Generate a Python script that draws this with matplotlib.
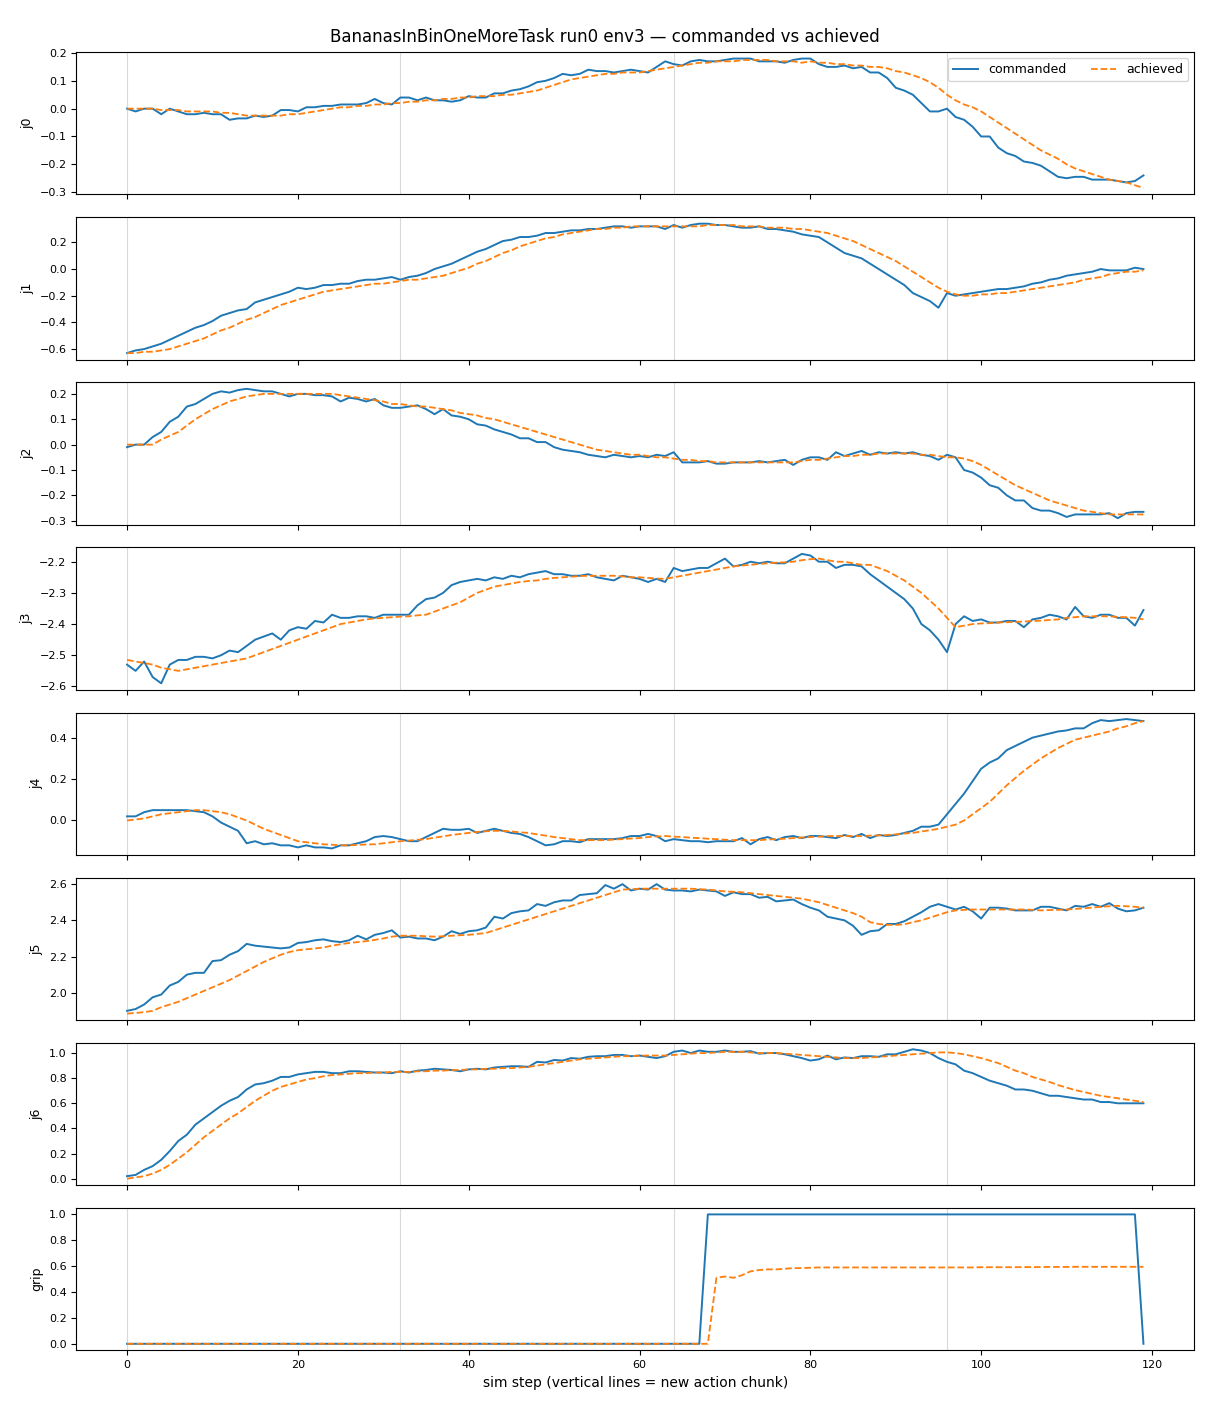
import matplotlib
matplotlib.use("Agg")
import matplotlib.pyplot as plt

joint_names = ["j0", "j1", "j2", "j3", "j4", "j5", "j6", "grip"]
chunk_starts = [0, 32, 64, 96]

j0_cmd = [0.00, -0.01, 0.00, 0.00, -0.02, 0.00, -0.01, -0.02, -0.02, -0.015,
          -0.02, -0.02, -0.04, -0.035, -0.035, -0.025, -0.03, -0.025, -0.005, -0.005,
          -0.01, 0.005, 0.005, 0.01, 0.01, 0.015, 0.015, 0.015, 0.02, 0.035,
          0.02, 0.015, 0.04, 0.04, 0.03, 0.04, 0.03, 0.03, 0.025, 0.03,
          0.045, 0.04, 0.04, 0.055, 0.055, 0.065, 0.07, 0.08, 0.095, 0.1,
          0.11, 0.125, 0.12, 0.125, 0.14, 0.135, 0.135, 0.13, 0.135, 0.14,
          0.135, 0.13, 0.15, 0.17, 0.16, 0.155, 0.17, 0.175, 0.17, 0.17,
          0.175, 0.18, 0.18, 0.18, 0.17, 0.17, 0.17, 0.165, 0.175, 0.18,
          0.18, 0.16, 0.15, 0.15, 0.155, 0.145, 0.15, 0.13, 0.13, 0.11,
          0.075, 0.065, 0.05, 0.02, -0.01, -0.01, 0.0, -0.03, -0.04, -0.065,
          -0.1, -0.1, -0.14, -0.16, -0.17, -0.19, -0.195, -0.205, -0.225, -0.245,
          -0.25, -0.245, -0.245, -0.255, -0.255, -0.255, -0.26, -0.265, -0.26, -0.24]
j0_ach = [0, 0, 0, 0, -0.005, -0.005, -0.005, -0.01, -0.01, -0.01,
          -0.01, -0.015, -0.015, -0.02, -0.025, -0.025, -0.025, -0.025, -0.025, -0.02,
          -0.02, -0.015, -0.01, -0.005, 0, 0.005, 0.005, 0.01, 0.01, 0.015,
          0.015, 0.02, 0.02, 0.025, 0.025, 0.03, 0.03, 0.035, 0.035, 0.04,
          0.04, 0.045, 0.045, 0.045, 0.05, 0.05, 0.055, 0.06, 0.065, 0.075,
          0.085, 0.095, 0.105, 0.11, 0.115, 0.12, 0.125, 0.125, 0.13, 0.13,
          0.13, 0.135, 0.14, 0.145, 0.15, 0.155, 0.16, 0.165, 0.165, 0.17,
          0.17, 0.17, 0.175, 0.175, 0.175, 0.175, 0.17, 0.17, 0.17, 0.165,
          0.17, 0.165, 0.165, 0.16, 0.16, 0.155, 0.155, 0.15, 0.15, 0.145,
          0.135, 0.13, 0.12, 0.11, 0.095, 0.075, 0.05, 0.03, 0.015, 0.005,
          -0.01, -0.03, -0.05, -0.07, -0.09, -0.11, -0.13, -0.15, -0.165, -0.18,
          -0.2, -0.215, -0.225, -0.235, -0.245, -0.255, -0.26, -0.265, -0.275, -0.285]

j1_cmd = [-0.63, -0.61, -0.6, -0.58, -0.56, -0.53, -0.5, -0.47, -0.44, -0.42,
          -0.39, -0.35, -0.33, -0.31, -0.3, -0.25, -0.23, -0.21, -0.19, -0.17,
          -0.14, -0.15, -0.14, -0.12, -0.12, -0.11, -0.11, -0.09, -0.08, -0.08,
          -0.07, -0.06, -0.08, -0.06, -0.05, -0.03, 0.0, 0.02, 0.04, 0.07,
          0.1, 0.13, 0.15, 0.18, 0.21, 0.22, 0.24, 0.24, 0.25, 0.27,
          0.27, 0.28, 0.29, 0.29, 0.3, 0.3, 0.31, 0.32, 0.32, 0.31,
          0.32, 0.32, 0.32, 0.3, 0.33, 0.31, 0.33, 0.34, 0.34, 0.33,
          0.33, 0.32, 0.31, 0.31, 0.32, 0.3, 0.3, 0.29, 0.28, 0.26,
          0.25, 0.24, 0.2, 0.16, 0.12, 0.1, 0.08, 0.04, 0.0, -0.04,
          -0.08, -0.12, -0.18, -0.21, -0.24, -0.29, -0.18, -0.2, -0.19, -0.18,
          -0.17, -0.16, -0.15, -0.15, -0.14, -0.13, -0.11, -0.1, -0.08, -0.07,
          -0.05, -0.04, -0.03, -0.02, 0.0, -0.01, -0.01, -0.01, 0.01, 0.0]
j1_ach = [-0.63, -0.63, -0.62, -0.62, -0.61, -0.6, -0.58, -0.56, -0.54, -0.52,
          -0.49, -0.46, -0.44, -0.41, -0.38, -0.36, -0.33, -0.3, -0.27, -0.25,
          -0.23, -0.21, -0.19, -0.17, -0.16, -0.15, -0.14, -0.13, -0.12, -0.11,
          -0.11, -0.1, -0.09, -0.08, -0.08, -0.07, -0.06, -0.05, -0.03, -0.01,
          0.01, 0.04, 0.06, 0.09, 0.12, 0.14, 0.17, 0.19, 0.21, 0.23,
          0.24, 0.26, 0.27, 0.28, 0.29, 0.3, 0.3, 0.31, 0.31, 0.32,
          0.32, 0.32, 0.32, 0.32, 0.32, 0.32, 0.32, 0.32, 0.33, 0.33,
          0.33, 0.33, 0.32, 0.32, 0.32, 0.31, 0.31, 0.31, 0.3, 0.3,
          0.29, 0.28, 0.27, 0.25, 0.23, 0.21, 0.18, 0.15, 0.12, 0.09,
          0.06, 0.02, -0.02, -0.06, -0.1, -0.14, -0.17, -0.19, -0.2, -0.2,
          -0.19, -0.19, -0.18, -0.18, -0.17, -0.16, -0.15, -0.14, -0.13, -0.12,
          -0.11, -0.1, -0.08, -0.07, -0.06, -0.04, -0.03, -0.02, -0.02, -0.01]

j2_cmd = [-0.01, 0.0, 0.0, 0.03, 0.05, 0.09, 0.11, 0.15, 0.16, 0.18,
          0.2, 0.21, 0.205, 0.215, 0.22, 0.215, 0.21, 0.21, 0.2, 0.19,
          0.2, 0.2, 0.195, 0.195, 0.19, 0.17, 0.185, 0.18, 0.17, 0.18,
          0.155, 0.145, 0.145, 0.15, 0.155, 0.14, 0.12, 0.14, 0.115, 0.11,
          0.1, 0.08, 0.075, 0.06, 0.05, 0.04, 0.025, 0.025, 0.01, 0.01,
          -0.01, -0.02, -0.025, -0.03, -0.04, -0.045, -0.05, -0.04, -0.045, -0.05,
          -0.045, -0.05, -0.04, -0.045, -0.03, -0.07, -0.07, -0.07, -0.065, -0.075,
          -0.075, -0.07, -0.07, -0.07, -0.065, -0.07, -0.065, -0.06, -0.08, -0.06,
          -0.05, -0.05, -0.06, -0.03, -0.045, -0.035, -0.025, -0.04, -0.03, -0.035,
          -0.03, -0.035, -0.03, -0.04, -0.045, -0.06, -0.04, -0.05, -0.1, -0.11,
          -0.13, -0.16, -0.17, -0.2, -0.22, -0.22, -0.25, -0.26, -0.26, -0.27,
          -0.285, -0.275, -0.275, -0.275, -0.275, -0.27, -0.29, -0.27, -0.265, -0.265]
j2_ach = [0.0, 0.0, 0.0, 0.0, 0.02, 0.035, 0.05, 0.075, 0.1, 0.12,
          0.14, 0.155, 0.17, 0.18, 0.19, 0.195, 0.2, 0.2, 0.2, 0.2,
          0.2, 0.2, 0.2, 0.2, 0.2, 0.195, 0.19, 0.185, 0.18, 0.175,
          0.17, 0.16, 0.16, 0.155, 0.15, 0.15, 0.145, 0.14, 0.135, 0.125,
          0.12, 0.115, 0.105, 0.1, 0.09, 0.08, 0.07, 0.06, 0.05, 0.04,
          0.03, 0.02, 0.01, 0.0, -0.01, -0.02, -0.025, -0.03, -0.035, -0.04,
          -0.04, -0.045, -0.05, -0.05, -0.055, -0.06, -0.06, -0.065, -0.065, -0.07,
          -0.07, -0.07, -0.07, -0.07, -0.07, -0.07, -0.07, -0.07, -0.07, -0.065,
          -0.06, -0.06, -0.055, -0.05, -0.045, -0.045, -0.04, -0.04, -0.035, -0.035,
          -0.035, -0.035, -0.035, -0.04, -0.04, -0.045, -0.05, -0.05, -0.055, -0.065,
          -0.08, -0.1, -0.12, -0.14, -0.16, -0.175, -0.19, -0.205, -0.22, -0.23,
          -0.24, -0.25, -0.26, -0.265, -0.27, -0.275, -0.275, -0.275, -0.275, -0.275]

j3_cmd = [-2.53, -2.55, -2.52, -2.57, -2.59, -2.53, -2.515, -2.515, -2.505, -2.505,
          -2.51, -2.5, -2.485, -2.49, -2.47, -2.45, -2.44, -2.43, -2.45, -2.42,
          -2.41, -2.415, -2.39, -2.395, -2.37, -2.38, -2.38, -2.375, -2.375, -2.38,
          -2.37, -2.37, -2.37, -2.37, -2.34, -2.32, -2.315, -2.3, -2.275, -2.265,
          -2.26, -2.255, -2.26, -2.25, -2.255, -2.245, -2.25, -2.24, -2.235, -2.23,
          -2.24, -2.24, -2.245, -2.245, -2.24, -2.25, -2.255, -2.26, -2.245, -2.25,
          -2.255, -2.265, -2.255, -2.265, -2.22, -2.23, -2.225, -2.22, -2.22, -2.205,
          -2.19, -2.215, -2.21, -2.2, -2.205, -2.2, -2.205, -2.205, -2.19, -2.175,
          -2.18, -2.2, -2.2, -2.22, -2.21, -2.21, -2.215, -2.24, -2.26, -2.28,
          -2.3, -2.32, -2.35, -2.4, -2.42, -2.45, -2.49, -2.4, -2.375, -2.39,
          -2.385, -2.395, -2.395, -2.39, -2.39, -2.41, -2.385, -2.38, -2.37, -2.375,
          -2.385, -2.345, -2.375, -2.38, -2.37, -2.37, -2.38, -2.38, -2.405, -2.355]
j3_ach = [-2.515, -2.52, -2.525, -2.53, -2.54, -2.545, -2.55, -2.545, -2.54, -2.535,
          -2.53, -2.525, -2.52, -2.515, -2.51, -2.5, -2.49, -2.48, -2.47, -2.46,
          -2.45, -2.44, -2.43, -2.42, -2.41, -2.4, -2.395, -2.39, -2.385, -2.382,
          -2.38, -2.378, -2.376, -2.375, -2.372, -2.37, -2.36, -2.35, -2.34, -2.33,
          -2.315, -2.3, -2.29, -2.28, -2.275, -2.27, -2.265, -2.262, -2.26, -2.255,
          -2.252, -2.25, -2.248, -2.246, -2.245, -2.245, -2.245, -2.245, -2.247, -2.25,
          -2.25, -2.252, -2.254, -2.255, -2.25, -2.245, -2.24, -2.235, -2.23, -2.225,
          -2.22, -2.215, -2.212, -2.21, -2.207, -2.205, -2.203, -2.202, -2.2, -2.195,
          -2.192, -2.19, -2.195, -2.2, -2.2, -2.205, -2.21, -2.21, -2.22, -2.23,
          -2.245, -2.26, -2.28, -2.3, -2.325, -2.35, -2.38, -2.41, -2.405, -2.4,
          -2.398, -2.397, -2.395, -2.394, -2.393, -2.392, -2.39, -2.389, -2.387, -2.385,
          -2.38, -2.378, -2.375, -2.375, -2.375, -2.375, -2.377, -2.378, -2.38, -2.385]

j4_cmd = [0.02, 0.02, 0.04, 0.05, 0.05, 0.05, 0.05, 0.05, 0.045, 0.04,
          0.02, -0.01, -0.03, -0.05, -0.11, -0.1, -0.115, -0.11, -0.12, -0.12,
          -0.13, -0.12, -0.13, -0.13, -0.135, -0.12, -0.12, -0.11, -0.1, -0.08,
          -0.075, -0.08, -0.09, -0.1, -0.1, -0.08, -0.06, -0.04, -0.045, -0.045,
          -0.04, -0.06, -0.05, -0.04, -0.05, -0.06, -0.065, -0.08, -0.1, -0.12,
          -0.115, -0.1, -0.1, -0.105, -0.09, -0.09, -0.09, -0.09, -0.085, -0.075,
          -0.075, -0.065, -0.075, -0.1, -0.09, -0.095, -0.1, -0.1, -0.105, -0.1,
          -0.1, -0.1, -0.085, -0.115, -0.09, -0.08, -0.095, -0.08, -0.075, -0.085,
          -0.075, -0.075, -0.08, -0.085, -0.07, -0.08, -0.065, -0.085, -0.07, -0.075,
          -0.07, -0.06, -0.05, -0.03, -0.03, -0.02, 0.03, 0.08, 0.13, 0.19,
          0.25, 0.28, 0.3, 0.34, 0.36, 0.38, 0.4, 0.41, 0.42, 0.43,
          0.435, 0.445, 0.445, 0.47, 0.485, 0.48, 0.485, 0.49, 0.485, 0.48]
j4_ach = [0.0, 0.005, 0.01, 0.02, 0.03, 0.035, 0.04, 0.045, 0.05, 0.05,
          0.045, 0.04, 0.03, 0.015, 0.0, -0.02, -0.04, -0.055, -0.07, -0.085,
          -0.1, -0.105, -0.11, -0.115, -0.117, -0.12, -0.12, -0.118, -0.116, -0.115,
          -0.11, -0.105, -0.1, -0.097, -0.093, -0.09, -0.083, -0.077, -0.07, -0.065,
          -0.06, -0.055, -0.052, -0.05, -0.05, -0.053, -0.057, -0.06, -0.067, -0.073,
          -0.08, -0.085, -0.09, -0.095, -0.095, -0.095, -0.095, -0.092, -0.09, -0.087,
          -0.085, -0.08, -0.077, -0.075, -0.078, -0.08, -0.083, -0.085, -0.088, -0.09,
          -0.093, -0.095, -0.095, -0.095, -0.095, -0.092, -0.09, -0.088, -0.085, -0.082,
          -0.08, -0.078, -0.075, -0.075, -0.075, -0.075, -0.075, -0.073, -0.072, -0.07,
          -0.067, -0.063, -0.06, -0.053, -0.047, -0.04, -0.03, -0.02, 0.0, 0.03,
          0.06, 0.09, 0.13, 0.17, 0.205, 0.24, 0.27, 0.3, 0.325, 0.35,
          0.37, 0.39, 0.4, 0.41, 0.42, 0.43, 0.445, 0.455, 0.47, 0.48]

j5_cmd = [1.9, 1.91, 1.935, 1.975, 1.99, 2.04, 2.06, 2.1, 2.11, 2.11,
          2.175, 2.18, 2.21, 2.23, 2.27, 2.26, 2.255, 2.25, 2.245, 2.25,
          2.275, 2.28, 2.29, 2.295, 2.285, 2.28, 2.29, 2.315, 2.295, 2.32,
          2.33, 2.345, 2.305, 2.31, 2.3, 2.3, 2.29, 2.31, 2.34, 2.325,
          2.34, 2.345, 2.36, 2.42, 2.41, 2.44, 2.45, 2.455, 2.49, 2.48,
          2.5, 2.51, 2.51, 2.54, 2.545, 2.55, 2.595, 2.575, 2.6, 2.565,
          2.575, 2.57, 2.6, 2.57, 2.565, 2.565, 2.56, 2.57, 2.565, 2.56,
          2.535, 2.555, 2.545, 2.545, 2.525, 2.53, 2.505, 2.51, 2.515, 2.49,
          2.47, 2.455, 2.42, 2.41, 2.4, 2.37, 2.32, 2.34, 2.345, 2.38,
          2.38, 2.395, 2.42, 2.445, 2.475, 2.49, 2.475, 2.46, 2.475, 2.45,
          2.41, 2.47, 2.47, 2.465, 2.455, 2.455, 2.455, 2.475, 2.475, 2.465,
          2.455, 2.48, 2.475, 2.49, 2.475, 2.495, 2.465, 2.45, 2.455, 2.47]
j5_ach = [1.885, 1.888, 1.893, 1.9, 1.92, 1.935, 1.95, 1.97, 1.99, 2.01,
          2.03, 2.05, 2.07, 2.095, 2.12, 2.145, 2.17, 2.19, 2.21, 2.225,
          2.235, 2.24, 2.245, 2.25, 2.26, 2.268, 2.275, 2.28, 2.285, 2.292,
          2.3, 2.31, 2.315, 2.315, 2.315, 2.312, 2.31, 2.312, 2.315, 2.318,
          2.32, 2.325, 2.33, 2.345, 2.36, 2.375, 2.39, 2.405, 2.42, 2.435,
          2.45, 2.465, 2.48, 2.495, 2.51, 2.525, 2.54, 2.555, 2.57, 2.572,
          2.575, 2.575, 2.575, 2.575, 2.575, 2.575, 2.575, 2.572, 2.57, 2.565,
          2.56, 2.558, 2.555, 2.55, 2.545, 2.54, 2.535, 2.53, 2.525, 2.52,
          2.51, 2.5, 2.485, 2.47, 2.455, 2.44, 2.42, 2.39, 2.38, 2.375,
          2.375, 2.378, 2.39, 2.4, 2.415, 2.43, 2.445, 2.455, 2.458, 2.46,
          2.46, 2.46, 2.46, 2.46, 2.46, 2.46, 2.458, 2.455, 2.457, 2.458,
          2.46, 2.463, 2.467, 2.47, 2.475, 2.478, 2.48, 2.478, 2.475, 2.47]

j6_cmd = [0.02, 0.03, 0.07, 0.1, 0.15, 0.22, 0.3, 0.35, 0.43, 0.48,
          0.53, 0.58, 0.62, 0.65, 0.71, 0.75, 0.76, 0.78, 0.81, 0.81,
          0.83, 0.84, 0.85, 0.85, 0.84, 0.84, 0.855, 0.855, 0.85, 0.845,
          0.845, 0.84, 0.855, 0.845, 0.86, 0.865, 0.875, 0.87, 0.865, 0.855,
          0.87, 0.875, 0.87, 0.885, 0.89, 0.895, 0.895, 0.89, 0.93, 0.925,
          0.945, 0.94, 0.96, 0.955, 0.97, 0.975, 0.975, 0.985, 0.985, 0.975,
          0.98, 0.97, 0.96, 0.975, 1.01, 1.02, 1.0, 1.02, 1.01, 1.01,
          1.02, 1.01, 1.01, 1.015, 0.995, 1.0, 1.0, 0.99, 0.975, 0.96,
          0.94, 0.95, 0.98, 0.95, 0.965, 0.96, 0.975, 0.975, 0.97, 0.99,
          0.99, 1.01, 1.03, 1.02, 1.0, 0.96, 0.93, 0.91, 0.86, 0.84,
          0.81, 0.78, 0.76, 0.74, 0.71, 0.71, 0.7, 0.68, 0.66, 0.66,
          0.65, 0.64, 0.63, 0.63, 0.61, 0.61, 0.6, 0.6, 0.6, 0.6]
j6_ach = [0.0, 0.01, 0.02, 0.04, 0.07, 0.11, 0.16, 0.21, 0.27, 0.33,
          0.38, 0.43, 0.48, 0.52, 0.57, 0.62, 0.66, 0.7, 0.73, 0.75,
          0.77, 0.79, 0.8, 0.815, 0.825, 0.83, 0.835, 0.84, 0.84, 0.845,
          0.845, 0.85, 0.85, 0.85, 0.855, 0.855, 0.86, 0.86, 0.865, 0.865,
          0.87, 0.87, 0.875, 0.875, 0.88, 0.88, 0.885, 0.89, 0.9, 0.91,
          0.92, 0.93, 0.94, 0.95, 0.955, 0.96, 0.965, 0.97, 0.975, 0.975,
          0.98, 0.98, 0.98, 0.98, 0.985, 0.99, 0.995, 1.0, 1.0, 1.005,
          1.01, 1.01, 1.01, 1.005, 1.0, 1.0, 1.0, 0.995, 0.99, 0.985,
          0.98, 0.975, 0.97, 0.965, 0.96, 0.96, 0.96, 0.965, 0.97, 0.975,
          0.98, 0.985, 0.99, 0.995, 1.0, 1.005, 1.005, 1.0, 0.99, 0.975,
          0.96, 0.94, 0.92, 0.89, 0.86, 0.84, 0.81, 0.79, 0.77, 0.745,
          0.725, 0.705, 0.69, 0.675, 0.66, 0.65, 0.64, 0.63, 0.62, 0.61]

grip_cmd = [0.0] * 68 + [1.0] * 51 + [0.0]
grip_ach = ([0.0] * 69
            + [0.51, 0.52, 0.51, 0.53, 0.56, 0.57, 0.575, 0.575, 0.58, 0.585,
               0.585, 0.588, 0.59, 0.59, 0.59, 0.59, 0.59, 0.59, 0.59, 0.59,
               0.59, 0.59, 0.59, 0.59, 0.59, 0.59, 0.59, 0.59, 0.59, 0.59,
               0.59, 0.592, 0.592, 0.592, 0.592, 0.592, 0.593, 0.593, 0.593, 0.594,
               0.594, 0.594, 0.595, 0.595, 0.595, 0.595, 0.595, 0.595, 0.595, 0.595,
               0.595])

commanded = [j0_cmd, j1_cmd, j2_cmd, j3_cmd, j4_cmd, j5_cmd, j6_cmd, grip_cmd]
achieved = [j0_ach, j1_ach, j2_ach, j3_ach, j4_ach, j5_ach, j6_ach, grip_ach]

fig, axes = plt.subplots(8, 1, figsize=(12.1, 14.08), dpi=100, sharex=True)
fig.subplots_adjust(left=0.063, right=0.987, top=0.963, bottom=0.041, hspace=0.16)
fig.suptitle("BananasInBinOneMoreTask run0 env3 — commanded vs achieved", fontsize=12, y=0.98)

for ax, name, cmd, ach in zip(axes, joint_names, commanded, achieved):
    for c in chunk_starts:
        ax.axvline(c, color="0.85", lw=0.8, zorder=0)
    ax.plot(range(len(cmd)), cmd, color="#1f77b4", lw=1.4, label="commanded")
    ax.plot(range(len(ach)), ach, color="#ff7f0e", lw=1.3, ls="--", label="achieved")
    ax.set_ylabel(name, fontsize=9)
    ax.tick_params(labelsize=8)

axes[0].legend(loc="upper right", ncol=2, fontsize=9)
axes[-1].set_xlabel("sim step (vertical lines = new action chunk)", fontsize=10)

fig.savefig("out.png")
